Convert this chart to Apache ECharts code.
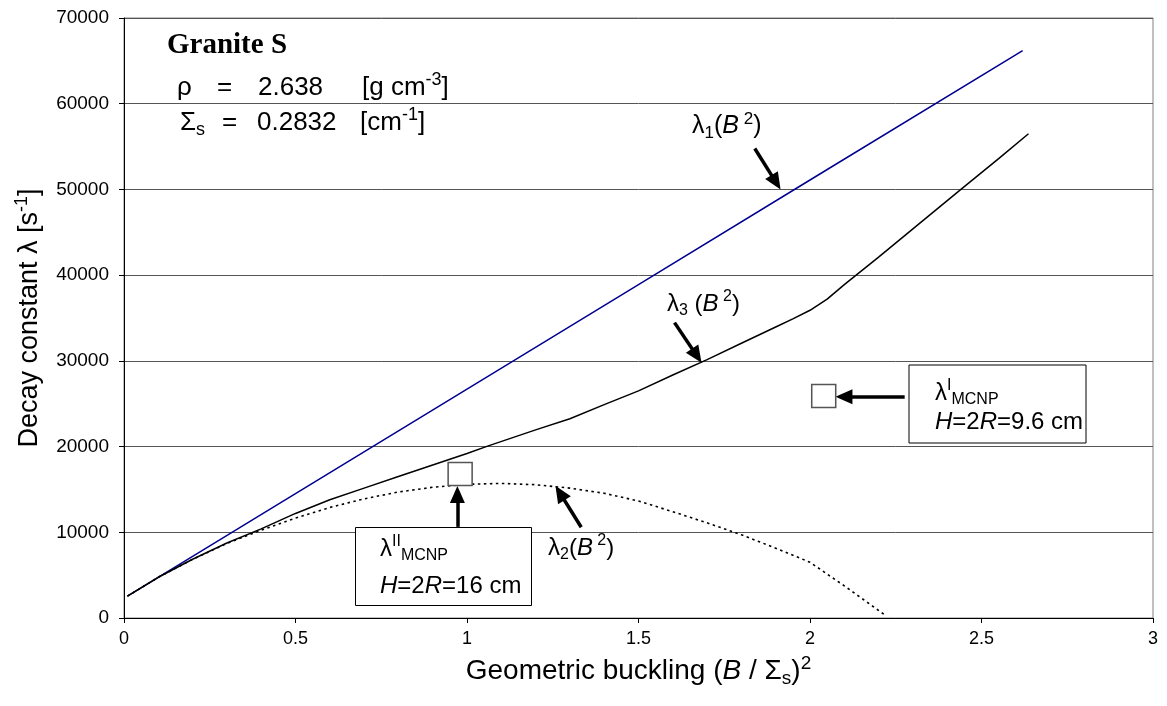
<!DOCTYPE html>
<html>
<head>
<meta charset="utf-8">
<title>Granite S</title>
<style>
    html, body { margin: 0; padding: 0; background: #fff; }
    #main { width: 1167px; height: 706px; }
</style>
</head>
<body>
<div id="main"></div>
<script src="https://cdn.jsdelivr.net/npm/echarts@6/dist/echarts.min.js"></script>
<script>
    // (B / Σs)^2 on x, decay constant λ [1/s] on y
    var lambda1X = [0.01, 0.5, 1.0, 1.5, 2.0, 2.62];
    var lambda1Y = [2550, 14500, 26700, 38900, 51100, 66200];

    var lambda3X = [0.01, 0.1, 0.2, 0.3, 0.4, 0.5, 0.6, 0.7, 0.8, 0.9, 1.0, 1.06, 1.2, 1.3, 1.4, 1.5,
        1.6, 1.7, 1.8, 1.9, 1.95, 2.0, 2.05, 2.1, 2.2, 2.3, 2.44, 2.55, 2.637];
    var lambda3Y = [2550, 4750, 6850, 8750, 10400, 12200, 13800, 15150, 16500, 17850, 19200, 20050, 21950, 23250, 24900, 26500,
        28350, 30150, 32050, 33950, 34900, 35900, 37200, 38900, 42100, 45400, 50000, 53600, 56500];

    var lambda2X = [0.01, 0.1, 0.2, 0.3, 0.4, 0.5, 0.6, 0.7, 0.8, 0.9, 1.0, 1.1, 1.2, 1.3, 1.4, 1.5,
        1.6, 1.7, 1.8, 1.9, 2.0, 2.1, 2.22];
    var lambda2Y = [2550, 4750, 6850, 8700, 10250, 11650, 12900, 13900, 14700, 15250, 15600, 15700, 15550, 15150, 14550, 13650,
        12400, 11100, 9700, 8150, 6500, 3750, 300];

    // MCNP results (II: H=2R=16 cm, I: H=2R=9.6 cm)
    var mcnpX = [0.98, 2.04];
    var mcnpY = [16800, 25900];

    var xTicks = ['0', '0.5', '1', '1.5', '2', '2.5', '3'];

    // arrows: [tailX, tailY, headX, headY] in data units
    var arrows = [
        [1.839, 54780, 1.901, 50830],
        [1.605, 34460, 1.670, 30600],
        [1.333, 10590, 1.271, 14580],
        [0.972, 10630, 0.972, 14420],
        [2.276, 25810, 2.099, 25810]
    ];

    function pairs(xs, ys) {
        var out = [];
        for (var i = 0; i < xs.length; i++) {
            out.push([xs[i], ys[i]]);
        }
        return out;
    }

    var FONT = 'Liberation Sans, Arial, sans-serif';

    function richFor(s) {
        var lh = Math.round(s * 1.25);
        var small = Math.round(s * 0.68);
        return {
            n: {fontSize: s, lineHeight: lh, fontFamily: FONT},
            i: {fontSize: s, lineHeight: lh, fontFamily: FONT, fontStyle: 'italic'},
            sub: {fontSize: small, lineHeight: small - 2, fontFamily: FONT, verticalAlign: 'bottom'},
            sup: {fontSize: small, lineHeight: small, fontFamily: FONT, verticalAlign: 'top'}
        };
    }

    function txt(x, y, text, size, extra) {
        var st = {
            text: text,
            fill: '#000',
            fontSize: size,
            fontFamily: FONT,
            align: 'left',
            verticalAlign: 'middle',
            rich: richFor(size)
        };
        if (extra) {
            for (var k in extra) st[k] = extra[k];
        }
        return {type: 'text', x: x, y: y, z: 110, style: st};
    }

    function box(x, y, w, h) {
        return {
            type: 'rect', z: 100,
            shape: {x: x, y: y, width: w, height: h},
            style: {fill: '#fff', stroke: '#000', lineWidth: 1}
        };
    }

    var arrowData = arrows.map(function (a) {
        return [
            {coord: [a[0], a[1]], symbol: 'none'},
            {coord: [a[2], a[3]], symbol: 'triangle', symbolSize: [15, 17]}
        ];
    });

    var myChart = echarts.init(document.getElementById('main'));

    var option = {
        animation: false,
        textStyle: {fontFamily: FONT},
        grid: {
            left: 124, right: 14, top: 18, bottom: 88,
            show: true, borderColor: '#808080', borderWidth: 1
        },
        xAxis: {
            type: 'value',
            min: 0, max: 3, interval: 0.5,
            axisLine: {lineStyle: {color: '#000', width: 1}},
            axisTick: {show: true, length: 5, lineStyle: {color: '#000'}},
            splitLine: {show: false},
            axisLabel: {
                fontSize: 18, color: '#000', margin: 12,
                formatter: function (v) {
                    return xTicks[Math.round(v * 2)];
                }
            },
            name: 'Geometric buckling ({i|B} / Σ{sub|s}){sup|2}',
            nameLocation: 'middle',
            nameGap: 36,
            nameTextStyle: {
                fontSize: 28, lineHeight: 34, color: '#000',
                rich: {
                    i: {fontSize: 28, lineHeight: 34, fontStyle: 'italic'},
                    sub: {fontSize: 19, lineHeight: 14, verticalAlign: 'bottom'},
                    sup: {fontSize: 19, lineHeight: 18, verticalAlign: 'top'}
                }
            }
        },
        yAxis: {
            type: 'value',
            min: 0, max: 70000, interval: 10000,
            axisLine: {show: true, lineStyle: {color: '#000', width: 1}},
            axisTick: {show: true, length: 5, lineStyle: {color: '#000'}},
            splitLine: {show: true, lineStyle: {color: '#555', width: 1}},
            axisLabel: {
                fontSize: 19, color: '#000', margin: 15,
                formatter: function (v) {
                    return String(v);
                }
            },
            name: 'Decay constant λ [s{sup|-1}]',
            nameLocation: 'middle',
            nameRotate: 90,
            nameGap: 77,
            nameTextStyle: {
                fontSize: 27, lineHeight: 32, color: '#000',
                rich: {
                    sup: {fontSize: 18, lineHeight: 17, verticalAlign: 'top'}
                }
            }
        },
        series: [
            {
                name: 'λ1', type: 'line', data: pairs(lambda1X, lambda1Y),
                showSymbol: false, symbol: 'none', z: 3,
                lineStyle: {color: '#000090', width: 1.5}
            },
            {
                name: 'λ3', type: 'line', data: pairs(lambda3X, lambda3Y),
                showSymbol: false, symbol: 'none', z: 3,
                lineStyle: {color: '#000', width: 1.5}
            },
            {
                name: 'λ2', type: 'line', data: pairs(lambda2X, lambda2Y),
                showSymbol: false, symbol: 'none', z: 3,
                lineStyle: {color: '#000', width: 1.6, type: [2.5, 3.5]}
            },
            {
                name: 'MCNP', type: 'scatter', data: pairs(mcnpX, mcnpY),
                symbol: 'rect', symbolSize: [24, 23], z: 5,
                itemStyle: {color: '#fff', borderColor: '#555', borderWidth: 1.5, opacity: 1},
                markLine: {
                    silent: true,
                    animation: false,
                    label: {show: false},
                    lineStyle: {color: '#000', width: 3.5, type: 'solid'},
                    itemStyle: {color: '#000'},
                    data: arrowData
                }
            }
        ],
        graphic: [
            box(909, 365, 177, 78),
            box(355.5, 527.5, 176, 78),

            txt(167, 46, 'Granite S', 29, {fontFamily: 'Liberation Serif, Times New Roman, serif', fontWeight: 'bold', rich: {}}),

            txt(177, 88, 'ρ', 26),
            txt(217, 88, '=', 26),
            txt(258, 88, '2.638', 26),
            txt(362, 88, '{n|[g cm}{sup|-3}{n|]}', 26),

            txt(180, 123, '{n|Σ}{sub|s}', 26),
            txt(222, 123, '=', 26),
            txt(257, 123, '0.2832', 26),
            txt(360, 123, '{n|[cm}{sup|-1}{n|]}', 26),

            txt(692, 126, '{n|λ}{sub|1}{n|(}{i|B}{sup| 2}{n|)}', 25),
            txt(667, 304, '{n|λ}{sub|3}{n| (}{i|B}{sup| 2}{n|)}', 24),
            txt(548, 548, '{n|λ}{sub|2}{n|(}{i|B}{sup| 2}{n|)}', 24),

            txt(935, 393, '{n|λ}{sup|I}{sub|MCNP}', 24),
            txt(935, 422, '{i|H}{n|=2}{i|R}{n|=9.6 cm}', 24),

            txt(380, 549, '{n|λ}{sup|II}{sub|MCNP}', 24),
            txt(380, 586, '{i|H}{n|=2}{i|R}{n|=16 cm}', 24)
        ]
    };

    myChart.setOption(option);
</script>
</body>
</html>
